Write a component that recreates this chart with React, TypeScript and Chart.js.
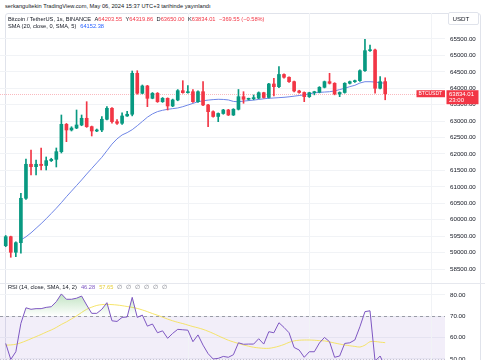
import React, { useEffect, useRef } from "react";
import { Chart, registerables } from "chart.js";
Chart.register(...registerables);

const FONT = "'Liberation Sans', Arial, sans-serif";
Chart.defaults.font.family = FONT;

const UP = "#089981";
const DOWN = "#f23645";

const opens = [59210, 59484, 59009, 59301, 60652, 61687, 61614, 61687, 61650, 61797, 61838, 62071, 62904, 62731, 62790, 62883, 63087, 62832, 62700, 62731, 63057, 63391, 62983, 62935, 63157, 63209, 64456, 63848, 64070, 63695, 63848, 63592, 63695, 63461, 63644, 63927, 63866, 63896, 63592, 63896, 63492, 63288, 63142, 63233, 63339, 63187, 63361, 63744, 63665, 63685, 63700, 63866, 63720, 64131, 64048, 64420, 64335, 64201, 63918, 63872, 63744, 63866, 63880, 64030, 64201, 64152, 63826, 63872, 64152, 64201, 64231, 64535, 65144, 65165, 64000, 64203.55];
const highs = [59520, 59500, 59330, 60805, 61848, 62122, 61818, 62183, 61909, 61870, 62183, 63187, 62930, 62830, 63339, 63187, 63592, 62850, 62760, 63136, 63440, 63410, 63050, 63250, 63300, 64526, 64535, 64100, 64090, 63870, 63870, 63720, 63710, 63670, 63960, 64231, 64080, 63960, 63920, 64201, 63510, 63310, 63250, 63360, 63360, 63380, 63963, 63896, 63700, 63796, 63890, 63880, 64150, 64304, 64663, 64440, 64350, 64220, 63940, 63890, 63880, 63910, 64050, 64220, 64456, 64170, 63890, 64170, 64220, 64250, 64560, 65491, 65317, 65190, 64353, 64319.86];
const lows = [59180, 58857, 58876, 58979, 60620, 61361, 61361, 61514, 61514, 61770, 61605, 62031, 62375, 62700, 62770, 62860, 62810, 62548, 62680, 62680, 63035, 62935, 62900, 62900, 63140, 63160, 63820, 63830, 63440, 63680, 63570, 63570, 63339, 63440, 63620, 63850, 63850, 63570, 63570, 63470, 62831, 63120, 62984, 63210, 63170, 63170, 63340, 63543, 63640, 63650, 63680, 63700, 63700, 63765, 64020, 64310, 64180, 63890, 63850, 63592, 63720, 63800, 63860, 64010, 64130, 63800, 63744, 63850, 64130, 64180, 64210, 64510, 65120, 63848, 63980, 63650];
const closes = [59484, 59009, 59301, 60652, 61687, 61614, 61687, 61650, 61797, 61838, 62071, 62904, 62731, 62790, 62883, 63087, 62832, 62700, 62731, 63057, 63391, 62983, 62935, 63157, 63209, 64456, 63848, 64070, 63695, 63848, 63592, 63695, 63461, 63644, 63927, 63866, 63896, 63592, 63896, 63492, 63288, 63142, 63233, 63339, 63187, 63361, 63744, 63665, 63685, 63700, 63866, 63720, 64131, 64048, 64420, 64335, 64201, 63918, 63872, 63744, 63866, 63880, 64030, 64201, 64152, 63826, 63872, 64152, 64201, 64231, 64535, 65144, 65165, 64000, 64201, 63834.01];
const sma20 = [null, null, null, 59384, 59480, 59600, 59740, 59880, 60030, 60190, 60350, 60520, 60700, 60870, 61040, 61210, 61390, 61560, 61730, 61900, 62100, 62300, 62460, 62580, 62650, 62740, 62860, 62990, 63120, 63220, 63290, 63330, 63360, 63380, 63400, 63440, 63490, 63540, 63590, 63620, 63640, 63655, 63665, 63660, 63645, 63600, 63590, 63610, 63625, 63640, 63660, 63680, 63695, 63705, 63715, 63725, 63740, 63760, 63780, 63800, 63830, 63860, 63875, 63885, 63895, 63920, 63960, 64000, 64050, 64090, 64160, 64200, 64200, 64190, 64170, 64152.38];
const rsi = [57.3, 49.8, 53.4, 66.7, 74, 73.3, 73.6, 73.6, 74.2, 74.5, 76.9, 80.5, 78, 78, 78.5, 79.5, 75.3, 71.4, 71.4, 73.3, 76.4, 67.9, 67.6, 69.5, 69.7, 78.9, 69.5, 70.6, 65.4, 66.4, 62.3, 63.2, 59.7, 62, 63.9, 63.7, 63.5, 58.1, 61.3, 56.5, 52.5, 50, 50.3, 51.2, 50.8, 52, 57.6, 56.9, 57, 57, 59.5, 57, 62.8, 62.3, 67, 64.8, 62.3, 55.4, 54.2, 50.8, 53.4, 53.4, 57.5, 60.1, 58.1, 50.8, 51.4, 57.3, 57.6, 58.9, 65.1, 72.2, 72.6, 49, 51.4, 46.28];
const rsiMa = [56.5, 56.6, 56.9, 57.6, 58.5, 59.5, 60.5, 61.5, 62.6, 63.6, 64.8, 66.2, 67.4, 68.8, 70.2, 71.8, 73.3, 74.3, 75.1, 75.5, 75.6, 75.5, 75.3, 75.0, 74.6, 74.2, 73.7, 73.0, 72.2, 71.3, 70.5, 69.6, 68.7, 67.9, 67.2, 66.6, 65.9, 65.2, 64.6, 63.9, 63.0, 62.0, 60.9, 59.8, 58.8, 58.0, 57.3, 56.6, 56.0, 55.5, 55.2, 55.0, 55.0, 55.4, 56.0, 56.8, 57.8, 58.5, 58.8, 58.9, 58.9, 58.8, 58.6, 58.5, 58.0, 57.5, 57.0, 56.6, 56.2, 55.9, 55.6, 56.5, 58.1, 58.2, 57.9, 57.65];
const priceTicks = [65500, 65000, 64500, 64000, 63500, 63000, 62500, 62000, 61500, 61000, 60500, 60000, 59500, 59000, 58500];
const rsiTicks = [80, 70, 60, 50];
const timeGridIdx = [37, 61, 85];

const X_MIN = -0.13;
const X_MAX = 87.82;
const AXIS_W = 40;
const GRID = "#f1f3f6";
const TXT = "#131722";
const LEG = 5.7;

function vGrid(chart: any) {
  const { ctx, chartArea, scales } = chart;
  ctx.save();
  ctx.strokeStyle = GRID;
  ctx.lineWidth = 1;
  for (const v of timeGridIdx) {
    const x = Math.round(scales.x.getPixelForValue(v)) + 0.5;
    ctx.beginPath();
    ctx.moveTo(x, chartArea.top);
    ctx.lineTo(x, chartArea.bottom);
    ctx.stroke();
  }
  ctx.restore();
}

function fixAxis(s: any) {
  s.width = AXIS_W;
  s.paddingTop = 0;
  s.paddingBottom = 0;
}

export default function App() {
  const mainRef = useRef<HTMLCanvasElement>(null);
  const rsiRef = useRef<HTMLCanvasElement>(null);

  useEffect(() => {
    const idx = closes.map((_, i) => i + 1);
    const colors = closes.map((c, i) => (c >= opens[i] ? UP : DOWN));
    const last = closes[closes.length - 1];

    const mainPlugin = {
      id: "mainDeco",
      beforeDatasetsDraw(chart: any) {
        vGrid(chart);
        const { ctx, chartArea, scales } = chart;
        const y = Math.round(scales.y.getPixelForValue(last)) + 0.5;
        ctx.save();
        ctx.strokeStyle = "rgba(242,54,69,0.35)";
        ctx.lineWidth = 1;
        ctx.setLineDash([1, 1]);
        ctx.beginPath();
        ctx.moveTo(chartArea.left, y);
        ctx.lineTo(chartArea.right, y);
        ctx.stroke();
        ctx.restore();
      },
      afterDraw(chart: any) {
        const { ctx, chartArea, scales } = chart;
        const y = scales.y.getPixelForValue(last);
        ctx.save();
        ctx.fillStyle = DOWN;
        ctx.fillRect(chartArea.right - 28.5, y - 3.5, 28.5, 7);
        ctx.fillRect(scales.y.left + 1.5, y - 3.5, 32, 14);
        ctx.fillStyle = "#ffffff";
        ctx.textBaseline = "middle";
        ctx.textAlign = "left";
        ctx.font = `5px ${FONT}`;
        ctx.fillText("BTCUSDT", chartArea.right - 26.5, y + 0.3);
        ctx.font = `6px ${FONT}`;
        ctx.fillText(last.toFixed(2), scales.y.left + 4, y + 0.2);
        ctx.fillText("23:00", scales.y.left + 4, y + 7);
        ctx.restore();
      },
    };

    const main = new Chart(mainRef.current!, {
      type: "bar",
      data: {
        datasets: [
          {
            type: "bar",
            label: "body",
            data: idx.map((x, i) => ({ x, y: [opens[i], closes[i]] })) as any,
            backgroundColor: colors,
            barThickness: 3,
            minBarLength: 1,
            grouped: false,
            order: 0,
          } as any,
          {
            type: "bar",
            label: "wick",
            data: idx.map((x, i) => ({ x, y: [lows[i], highs[i]] })) as any,
            backgroundColor: colors,
            barThickness: 1,
            grouped: false,
            order: 1,
          } as any,
          {
            type: "line",
            label: "SMA",
            data: idx.map((x, i) => ({ x, y: sma20[i] })) as any,
            borderColor: "#6f86e6",
            borderWidth: 1,
            pointRadius: 0,
            tension: 0,
            order: 2,
          } as any,
        ],
      },
      options: {
        responsive: false,
        animation: false,
        layout: { padding: 0 },
        plugins: { legend: { display: false }, tooltip: { enabled: false } },
        scales: {
          x: { type: "linear", display: false, offset: false, min: X_MIN, max: X_MAX },
          y: {
            position: "right",
            min: 58074,
            max: 66291,
            afterFit: fixAxis,
            afterBuildTicks: (s: any) => {
              s.ticks = priceTicks.map((v) => ({ value: v }));
            },
            grid: { color: GRID, drawTicks: false },
            border: { display: false },
            ticks: {
              padding: 5,
              color: TXT,
              font: { size: 6.2 },
              callback: (v: any) => Number(v).toFixed(2),
            },
          },
        },
      } as any,
      plugins: [mainPlugin],
    });

    const rsiPlugin = {
      id: "rsiDeco",
      beforeDatasetsDraw(chart: any) {
        const { ctx, chartArea, scales } = chart;
        const y70 = scales.y.getPixelForValue(70);
        const y30 = scales.y.getPixelForValue(30);
        const y50 = scales.y.getPixelForValue(50);
        ctx.save();
        ctx.fillStyle = "rgba(126,87,194,0.1)";
        ctx.fillRect(chartArea.left, y70, chartArea.right - chartArea.left, Math.min(y30, chartArea.bottom) - y70);
        vGrid(chart);
        ctx.strokeStyle = "rgba(120,123,134,0.7)";
        ctx.lineWidth = 1;
        ctx.setLineDash([3, 3]);
        ctx.beginPath();
        ctx.moveTo(chartArea.left, Math.round(y70) + 0.5);
        ctx.lineTo(chartArea.right, Math.round(y70) + 0.5);
        ctx.stroke();
        ctx.strokeStyle = "rgba(120,123,134,0.35)";
        ctx.setLineDash([1, 2]);
        ctx.beginPath();
        ctx.moveTo(chartArea.left, Math.round(y50) + 0.5);
        ctx.lineTo(chartArea.right, Math.round(y50) + 0.5);
        ctx.stroke();
        ctx.setLineDash([]);
        ctx.strokeStyle = "#e6e8ee";
        ctx.beginPath();
        ctx.moveTo(0, 0.5);
        ctx.lineTo(chart.width, 0.5);
        ctx.stroke();
        ctx.restore();
      },
    };

    const rsiChart = new Chart(rsiRef.current!, {
      type: "line",
      data: {
        datasets: [
          {
            label: "RSI",
            data: idx.map((x, i) => ({ x, y: rsi[i] })),
            borderColor: "#7e57c2",
            borderWidth: 1,
            pointRadius: 0,
            tension: 0,
            fill: { target: { value: 70 }, below: "rgba(0,0,0,0)" },
            backgroundColor: (c: any) => {
              const ch = c.chart;
              const ys = ch.scales && ch.scales.y;
              if (!ch.chartArea || !ys) return "rgba(76,175,80,0.25)";
              const g = ch.ctx.createLinearGradient(0, ys.getPixelForValue(100), 0, ys.getPixelForValue(70));
              g.addColorStop(0, "rgba(76,175,80,1)");
              g.addColorStop(1, "rgba(76,175,80,0)");
              return g;
            },
          } as any,
          {
            label: "MA",
            data: idx.map((x, i) => ({ x, y: rsiMa[i] })),
            borderColor: "rgba(245,224,80,0.85)",
            borderWidth: 1,
            pointRadius: 0,
            tension: 0.3,
            fill: false,
          } as any,
        ],
      },
      options: {
        responsive: false,
        animation: false,
        layout: { padding: 0 },
        plugins: { legend: { display: false }, tooltip: { enabled: false } },
        scales: {
          x: { type: "linear", display: false, offset: false, min: X_MIN, max: X_MAX },
          y: {
            position: "right",
            min: 49.53,
            max: 85.625,
            afterFit: fixAxis,
            afterBuildTicks: (s: any) => {
              s.ticks = rsiTicks.map((v) => ({ value: v }));
            },
            grid: { color: GRID, drawTicks: false },
            border: { display: false },
            ticks: {
              padding: 5,
              color: TXT,
              font: { size: 6.2 },
              callback: (v: any) => Number(v).toFixed(2),
            },
          },
        },
      } as any,
      plugins: [rsiPlugin],
    });

    return () => {
      main.destroy();
      rsiChart.destroy();
    };
  }, []);

  const red = { color: DOWN };
  const gap = { marginLeft: 3.5 };
  const line = { position: "absolute" as const, left: 8, fontSize: LEG, lineHeight: "7px", whiteSpace: "pre" as const };
  return (
    <div
      style={{
        position: "absolute",
        left: 0,
        top: 0,
        width: 485,
        height: 360,
        overflow: "hidden",
        background: "#fff",
        fontFamily: FONT,
        color: TXT,
      }}
    >
      <div style={{ position: "absolute", left: 5, top: 13, width: 474, height: 400, border: "1px solid #e0e3eb", borderRadius: 3 }} />
      <div style={{ ...line, left: 5, top: 2.5 }}>
        serkangultekin TradingView.com, May 06, 2024 15:37 UTC+3 tarihinde yayınlandı
      </div>
      <canvas ref={mainRef} width={485} height={270} style={{ position: "absolute", left: 0, top: 13 }} />
      <canvas ref={rsiRef} width={485} height={77} style={{ position: "absolute", left: 0, top: 283 }} />
      <div style={{ ...line, top: 15.5 }}>
        <span>Bitcoin / TetherUS, 1s, BINANCE</span>
        <span style={gap}>A</span>
        <span style={red}>64203.55</span>
        <span style={gap}>Y</span>
        <span style={red}>64319.86</span>
        <span style={gap}>D</span>
        <span style={red}>63650.00</span>
        <span style={gap}>K</span>
        <span style={red}>63834.01</span>
        <span style={{ ...gap, ...red }}>−369.55 (−0.58%)</span>
      </div>
      <div style={{ ...line, top: 22.5 }}>
        <span>SMA (20, close, 0, SMA, 5)</span>
        <span style={{ marginLeft: 4, color: "#2962ff" }}>64152.38</span>
      </div>
      <div
        style={{
          position: "absolute",
          left: 448,
          top: 12,
          width: 31,
          height: 13,
          boxSizing: "border-box",
          border: "1px solid #e0e3eb",
          borderRadius: 2,
          background: "#fff",
          fontSize: 6.2,
          lineHeight: "11px",
          paddingLeft: 3.5,
        }}
      >
        USDT
      </div>
      <div style={{ ...line, top: 283.5 }}>
        <span>RSI (14, close, SMA, 14, 2)</span>
        <span style={{ marginLeft: 4, color: "#7e57c2" }}>46.28</span>
        <span style={{ marginLeft: 4, color: "#e6cf3a" }}>57.65</span>
        <span style={{ marginLeft: 4, color: "#787b86", letterSpacing: 1.2 }}>∅ ∅ ∅ ∅ ∅ ∅</span>
      </div>
    </div>
  );
}
